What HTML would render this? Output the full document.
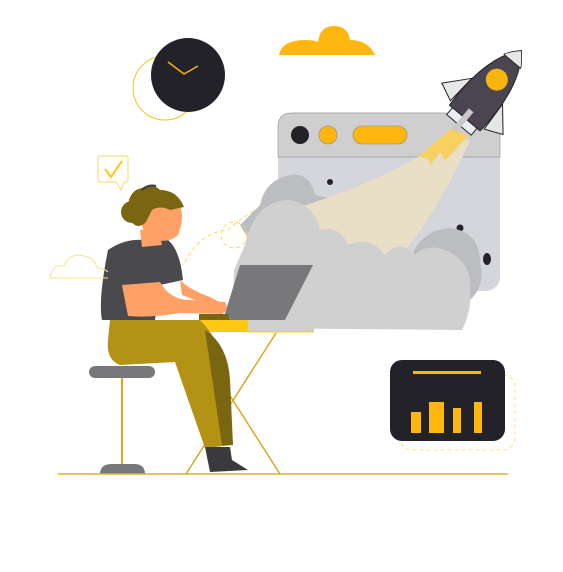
<!DOCTYPE html>
<html><head><meta charset="utf-8"><style>html,body{margin:0;padding:0;background:#fff}svg{display:block}</style></head>
<body>
<svg width="563" height="572" viewBox="0 0 563 572" xmlns="http://www.w3.org/2000/svg">
<circle cx="165" cy="88" r="32" fill="none" stroke="#f5c518" stroke-width="1"/>
<circle cx="188" cy="75" r="37" fill="#232228"/>
<polyline points="168,62 184,74 198,66" fill="none" stroke="#f5b50e" stroke-width="1.5"/>
<path d="M279,55 Q282,40 305,40 Q314,40 318,42 Q320,26 334,26 Q348,26 350,40 Q368,40 375,55 Z" fill="#ffb70f"/>
<rect x="278" y="113" width="222" height="178" rx="14" fill="#d5d6db"/>
<path d="M278,157 V127 Q278,113 292,113 H486 Q500,113 500,127 V157 Z" fill="#cfcfcf" stroke="#999" stroke-width="0.7"/>
<circle cx="300" cy="135" r="9" fill="#232228"/>
<circle cx="328" cy="135" r="9" fill="#ffb70f" stroke="#888" stroke-width="0.6"/>
<rect x="353" y="126" width="54" height="18" rx="9" fill="#ffb70f" stroke="#888" stroke-width="0.6"/>
<circle cx="330" cy="182" r="3" fill="#232228"/>
<ellipse cx="342" cy="202" rx="4" ry="6" fill="#232228"/>
<circle cx="460" cy="228" r="3.5" fill="#232228"/>
<ellipse cx="487" cy="259" rx="4" ry="6" fill="#232228"/>
<path d="M240,225 L260,205 Q265,180 290,175 Q310,172 315,195 L340,200 L340,240 L255,250 Z" fill="#bcbdc0"/>
<path d="M410,260 Q420,230 450,228 Q480,232 480,262 Q486,285 470,300 L410,300 Z" fill="#bcbdc0"/>
<path d="M300,207 Q400,175 450,135 L470,140 Q440,210 390,270 L330,260 Z" fill="#e8dfc6"/>
<path d="M418,157 L438,140 L452,128 L468,136 L455,150 L445,160 L440,152 L430,165 L428,158 Z" fill="#f8d060"/>
<path d="M232,328 L234,270 L245,245 Q255,200 290,200 Q315,205 320,230 Q340,225 348,245 Q370,235 385,255 Q400,238 415,255 Q430,240 455,255 Q472,268 470,290 Q472,310 462,330 Z" fill="#d0d0d0"/>
<g transform="translate(484,95) rotate(40)">
<path d="M-20,-5 L-40,18 L-22,26 Z" fill="#e6e7e8" stroke="#232228" stroke-width="1"/>
<path d="M20,-5 L40,18 L22,26 Z" fill="#e6e7e8" stroke="#232228" stroke-width="1"/>
<path d="M0,-58 Q24,-30 20,30 L-20,30 Q-24,-30 0,-58 Z" fill="#4a4550" stroke="#232228" stroke-width="1"/>
<path d="M0,-58 Q8,-50 11,-44 L-11,-44 Q-8,-50 0,-58 Z" fill="#e6e7e8" stroke="#232228" stroke-width="0.8"/>
<rect x="-16" y="30" width="32" height="9" fill="#e8eef4" stroke="#232228" stroke-width="1"/>
<rect x="-3" y="20" width="6" height="26" fill="#c8c8c8"/>
<circle cx="0" cy="-20" r="11" fill="#f5b50e"/>
</g>
<line x1="190" y1="333" x2="280" y2="474" stroke="#d6a91e" stroke-width="1.5"/>
<line x1="276" y1="333" x2="186" y2="474" stroke="#d6a91e" stroke-width="1.5"/>
<rect x="150" y="320" width="100" height="12" fill="#ffc814"/>
<rect x="248" y="320" width="66" height="12" fill="#cfcfcf"/>
<line x1="248" y1="332" x2="314" y2="332" stroke="#ffc814" stroke-width="1"/>
<polygon points="240,265 313,265 285,320 223,320" fill="#78787a"/>
<rect x="199" y="314" width="30" height="6" fill="#7a6510"/>
<rect x="89" y="366" width="66" height="12" rx="6" fill="#78787a"/>
<rect x="121" y="378" width="2" height="88" fill="#d6a91e"/>
<path d="M100,474 Q100,464 112,464 H134 Q145,464 145,474 Z" fill="#78787a"/>
<line x1="58" y1="474" x2="508" y2="474" stroke="#d6b52a" stroke-width="1.5"/>
<path d="M110,320 L200,320 Q225,345 228,385 L233,445 L205,448 L175,362 L120,365 Q106,360 108,340 Z" fill="#b39214"/>
<path d="M205,330 Q228,345 230,380 L233,445 L222,445 Z" fill="#7a6510"/>
<path d="M205,447 L230,447 L232,460 L248,470 L210,472 Z" fill="#3a3a3e"/>
<path d="M108,250 Q125,238 145,240 L168,240 Q180,250 183,280 L160,285 L155,320 L102,320 Q98,300 108,250 Z" fill="#4a4a4e"/>
<path d="M122,285 L160,282 Q170,300 190,300 L225,302 Q230,310 222,314 L180,313 Q150,318 128,316 Z" fill="#ffa066"/>
<path d="M180,280 Q190,290 210,297 L225,305 L200,302 L182,295 Z" fill="#ffa066"/>
<path d="M140,230 L158,228 L162,245 L142,247 Z" fill="#ffa066"/>
<path d="M140,198 Q160,190 178,202 Q186,215 178,235 Q168,245 148,238 Q138,225 140,198 Z" fill="#ffa066"/>
<circle cx="132" cy="212" r="11" fill="#7a6510"/>
<path d="M128,205 Q130,190 142,188 Q152,182 160,190 Q177,190 184,207 L170,210 Q160,205 152,210 L146,222 Q140,228 135,225 Q126,220 128,205 Z" fill="#7a6510"/>
<path d="M142,190 Q148,184 156,186" fill="none" stroke="#3a3a3e" stroke-width="2"/>
<path d="M100,156 H126 Q128,156 128,158 V180 Q128,182 126,182 H124 L121,190 L116,182 H100 Q98,182 98,180 V158 Q98,156 100,156 Z" fill="none" stroke="#ffd75a" stroke-width="1"/>
<polyline points="105,169 111,177 122,161" fill="none" stroke="#ffc814" stroke-width="2"/>
<path d="M50,278 Q52,264 64,266 Q70,252 84,256 Q95,258 97,268 Q104,268 108,272 M50,278 H108" fill="none" stroke="#ffe08a" stroke-width="1"/>
<path d="M185,262 Q200,232 228,230 Q245,215 255,210" fill="none" stroke="#ffd75a" stroke-width="1" stroke-dasharray="4,3"/>
<circle cx="234" cy="235" r="13" fill="none" stroke="#ffd75a" stroke-width="1" stroke-dasharray="4,3"/>
<rect x="400" y="375" width="115" height="75" rx="12" fill="none" stroke="#ffe08a" stroke-width="1" stroke-dasharray="4,3"/>
<rect x="390" y="360" width="115" height="81" rx="12" fill="#232228"/>
<rect x="413" y="371" width="68" height="3" fill="#ffb70f"/>
<rect x="411" y="412" width="10" height="21" fill="#ffb70f"/>
<rect x="429" y="402" width="15" height="31" fill="#ffb70f"/>
<rect x="453" y="408" width="8" height="25" fill="#ffb70f"/>
<rect x="474" y="402" width="8" height="31" fill="#ffb70f"/>
</svg>
</body></html>
